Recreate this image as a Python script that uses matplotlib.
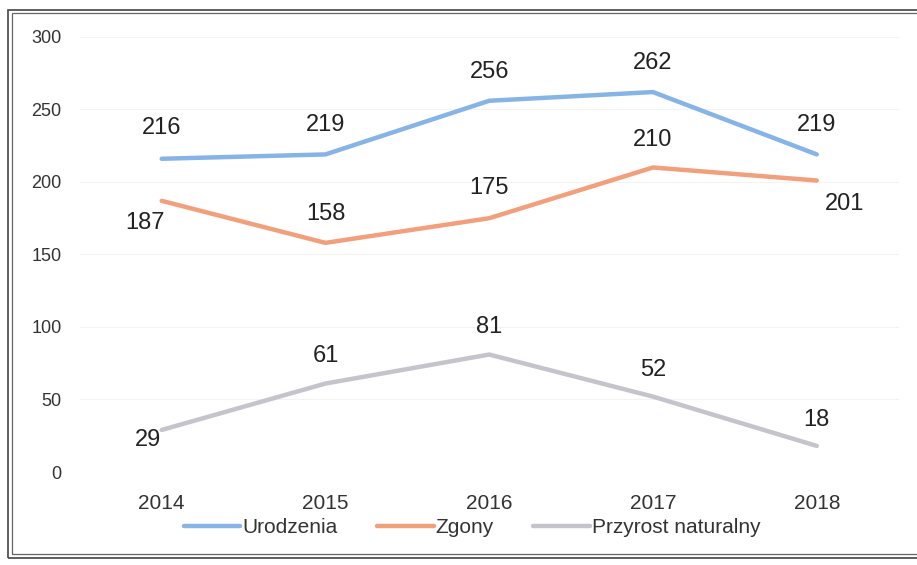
import matplotlib.pyplot as plt
from matplotlib.patches import Rectangle

plt.rcParams['font.family'] = ['Liberation Sans Narrow', 'Liberation Sans', 'DejaVu Sans']

years = ['2014', '2015', '2016', '2017', '2018']
urodzenia = [216, 219, 256, 262, 219]
zgony = [187, 158, 175, 210, 201]
przyrost = [29, 61, 81, 52, 18]

# label offsets in points (dx, dy) for each series
off_uro = [(0, 22), (0, 21), (0, 21), (0, 21), (0, 21)]
off_zg = [(-12, -16), (0, 21), (0, 22), (0, 20), (20, -17)]
off_pr = [(-10, -7), (0, 20), (0, 20), (0, 19), (0, 19)]

fig = plt.figure(figsize=(9.17, 5.65), dpi=100)
ax = fig.add_axes([0.087, 0.1646, 0.893, 0.77])

x = range(len(years))
series = [
    (urodzenia, 'Urodzenia', '#86b4e6', off_uro),
    (zgony, 'Zgony', '#f2a07c', off_zg),
    (przyrost, 'Przyrost naturalny', '#c4c4cc', off_pr),
]
for vals, name, col, offs in series:
    ax.plot(x, vals, color=col, lw=3.2, label=name, solid_capstyle='round')
    for i, v in enumerate(vals):
        ax.annotate(str(v), (i, v), xytext=offs[i], textcoords='offset points',
                    ha='center', va='center', fontsize=17, color='#222222')

ax.set_xlim(-0.5, len(years) - 0.5)
ax.set_ylim(0, 300)
ax.set_yticks(range(0, 301, 50))
ax.set_xticks(list(x))
ax.set_xticklabels(years)
ax.tick_params(length=0, colors='#333333')
ax.tick_params(axis='x', pad=16, labelsize=15)
ax.tick_params(axis='y', pad=13, labelsize=13)
ax.grid(axis='y', color='#f3f3f3', lw=0.8)
ax.set_axisbelow(True)
for s in ax.spines.values():
    s.set_visible(False)

fig.legend(loc='center', bbox_to_anchor=(0.515, 0.066), ncol=3, frameon=False,
           fontsize=15, handlelength=2.7, handletextpad=0.1, columnspacing=1.9,
           labelcolor='#333333')

# double frame around the chart (scan border)
fig.patches.append(Rectangle((8 / 917, 7 / 565), 1.2, 548 / 565, transform=fig.transFigure,
                             fill=False, ec='#444444', lw=1.2))
fig.patches.append(Rectangle((12 / 917, 11 / 565), 1.2, 541 / 565, transform=fig.transFigure,
                             fill=False, ec='#666666', lw=0.9))

fig.savefig('out.png', dpi=100)
